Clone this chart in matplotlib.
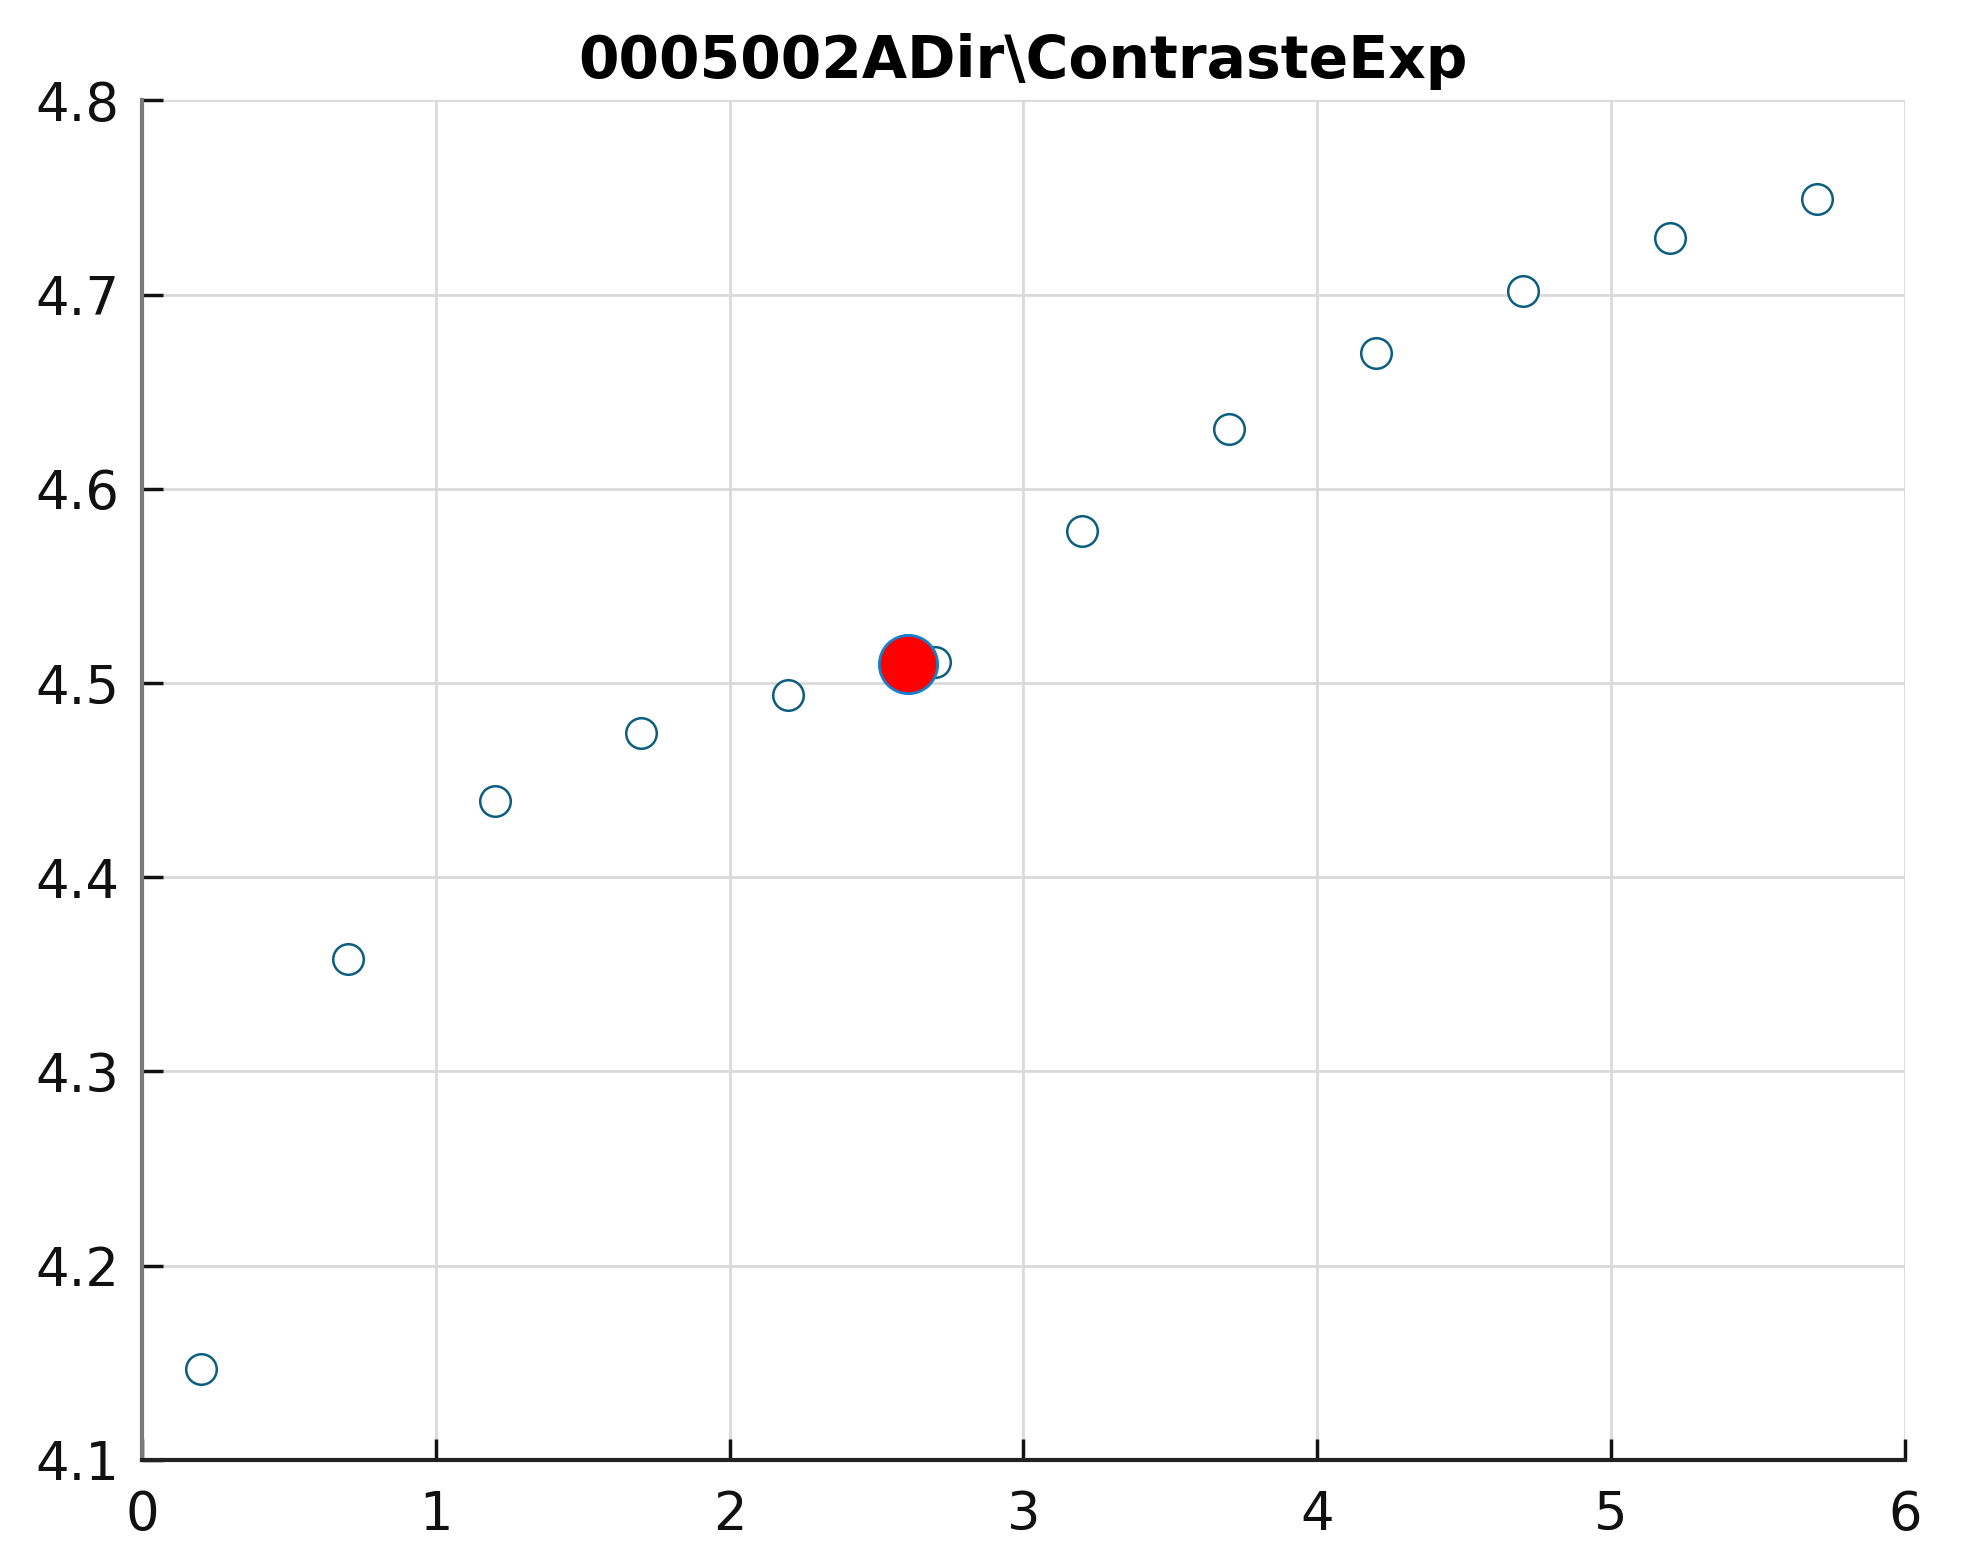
import numpy as np
import matplotlib
matplotlib.use("Agg")
import matplotlib.pyplot as plt

# measured points
x_vals = [0.2, 0.7, 1.2, 1.7, 2.2, 2.7, 3.2, 3.7, 4.2, 4.7, 5.2, 5.7]
y_vals = [4.147, 4.358, 4.439, 4.474, 4.494, 4.511, 4.578, 4.631, 4.670, 4.702, 4.729, 4.749]

# highlighted point
sel_x = [2.606]
sel_y = [4.510]

x_ticks = [0, 1, 2, 3, 4, 5, 6]
y_ticks = [4.1, 4.2, 4.3, 4.4, 4.5, 4.6, 4.7, 4.8]

fig = plt.figure(figsize=(19.71, 15.68), dpi=100)
ax = fig.add_axes([0.072, 0.069, 0.8945, 0.867])

ax.plot(x_vals, y_vals, linestyle='none', marker='o', markersize=22,
        markerfacecolor='white', markeredgecolor='#0b5e80', markeredgewidth=1.8)
ax.plot(sel_x, sel_y, linestyle='none', marker='o', markersize=42,
        markerfacecolor='#ff0000', markeredgecolor='#1480d0', markeredgewidth=2.0)

ax.set_xlim(0, 6)
ax.set_ylim(4.1, 4.8)
ax.set_xticks(x_ticks)
ax.set_yticks(y_ticks)
ax.set_xticklabels([str(t) for t in x_ticks])
ax.set_yticklabels([f'{t:.1f}' for t in y_ticks])

ax.grid(True, color='#d9d9d9', linewidth=2)
ax.set_axisbelow(True)

ax.spines['top'].set_visible(False)
ax.spines['right'].set_visible(False)
ax.spines['left'].set_color('#7a7a7a')
ax.spines['left'].set_linewidth(3)
ax.spines['bottom'].set_color('#222222')
ax.spines['bottom'].set_linewidth(3)

ax.tick_params(axis='both', direction='in', length=15, width=2.5,
               labelsize=38, colors='#111111')
ax.tick_params(axis='y', pad=16)
ax.tick_params(axis='x', pad=21)

ax.set_title('0005002ADir\\ContrasteExp', fontsize=42, fontweight='bold', pad=16)

fig.savefig('out.png', dpi=100)
